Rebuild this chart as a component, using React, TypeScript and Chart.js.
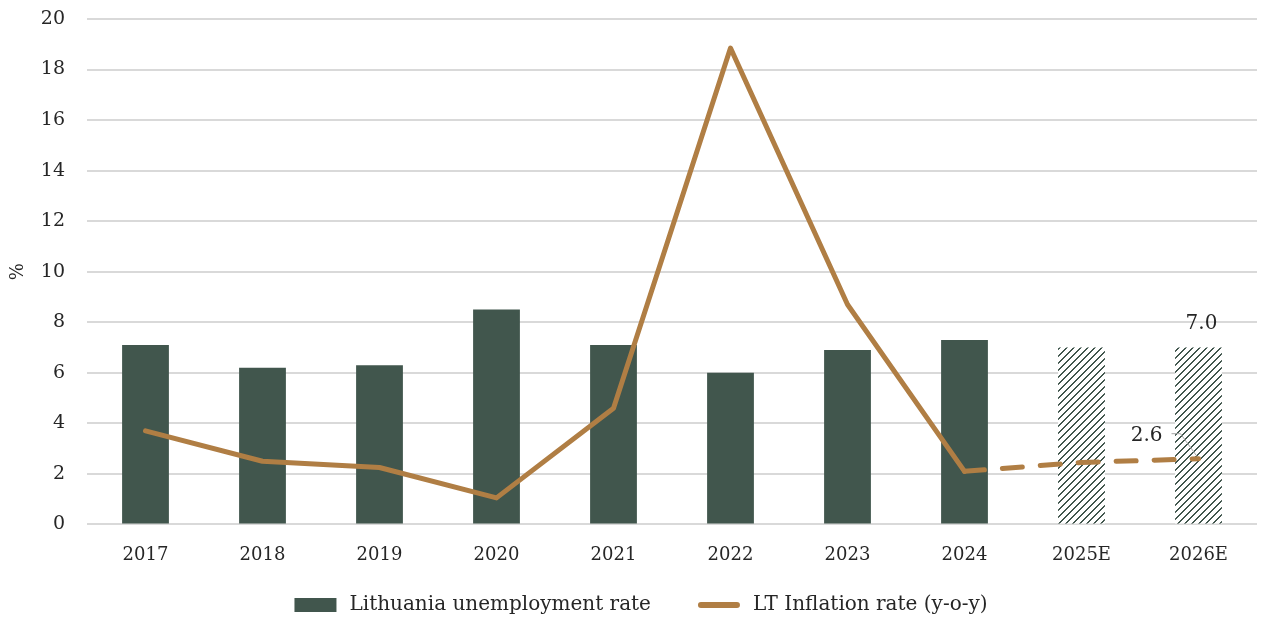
import React, { useEffect, useRef } from "react";
import { Chart, registerables } from "chart.js";

Chart.register(...registerables);

const categories = ["2017", "2018", "2019", "2020", "2021", "2022", "2023", "2024", "2025E", "2026E"];
const unemployment = [7.1, 6.2, 6.3, 8.5, 7.1, 6.0, 6.9, 7.3, 7.0, 7.0];
const inflation = [3.7, 2.5, 2.25, 1.05, 4.6, 18.85, 8.7, 2.1, 2.45, 2.6];
const forecastFrom = 7; // index of last actual point (2024)
const yTicks = [0, 2, 4, 6, 8, 10, 12, 14, 16, 18, 20];
const legendLabels = ["Lithuania unemployment rate", "LT Inflation rate (y-o-y)"];

const BAR = "#41564d";
const LINE = "#b07e44";
const TEXT = "#262626";
const FONT = "'DejaVu Serif', 'Liberation Serif', serif";

function makePattern(): CanvasPattern | string {
  const n = 7;
  const c = document.createElement("canvas");
  c.width = n;
  c.height = n;
  const g = c.getContext("2d");
  if (!g) return BAR;
  g.fillStyle = "#ffffff";
  g.fillRect(0, 0, n, n);
  g.fillStyle = BAR;
  for (let i = 0; i < n; i++) {
    g.fillRect((n - 1 - i + n) % n, i, 2, 1);
    if ((n - 1 - i) === n - 1) g.fillRect(0, i, 1, 1);
  }
  const p = g.createPattern(c, "repeat");
  return p || BAR;
}

const labelsPlugin = {
  id: "customLabels",
  afterDatasetsDraw(chart: any) {
    const { ctx } = chart;
    const x = chart.scales.x;
    const y = chart.scales.y;
    const last = categories.length - 1;
    ctx.save();
    ctx.font = `20px ${FONT}`;
    ctx.fillStyle = TEXT;
    ctx.textAlign = "center";
    ctx.textBaseline = "bottom";
    const bx = x.getPixelForValue(last);
    const by = y.getPixelForValue(unemployment[last]);
    ctx.fillText(unemployment[last].toFixed(1), bx + 3, by - 14);

    const px = x.getPixelForValue(last);
    const py = y.getPixelForValue(inflation[last]);
    ctx.textAlign = "right";
    ctx.textBaseline = "middle";
    ctx.fillText(inflation[last].toFixed(1), px - 36, py - 23);
    ctx.strokeStyle = "#a6a6a6";
    ctx.lineWidth = 1;
    ctx.beginPath();
    ctx.moveTo(px - 27, py - 25);
    ctx.lineTo(px - 18, py - 25);
    ctx.lineTo(px - 2, py - 3);
    ctx.stroke();
    ctx.restore();
  },
};

const legendPlugin = {
  id: "customLegend",
  afterDraw(chart: any) {
    const { ctx, width } = chart;
    ctx.save();
    ctx.font = `20px ${FONT}`;
    const box = 42;
    const gapText = 13;
    const gapItem = 47;
    const w0 = ctx.measureText(legendLabels[0]).width;
    const w1 = ctx.measureText(legendLabels[1]).width;
    const total = box + gapText + w0 + gapItem + box + gapText + w1;
    let x = (width - total) / 2 + 8;
    const yc = 605;
    ctx.fillStyle = BAR;
    ctx.fillRect(x, yc - 7, box, 14);
    x += box + gapText;
    ctx.fillStyle = TEXT;
    ctx.textAlign = "left";
    ctx.textBaseline = "middle";
    ctx.fillText(legendLabels[0], x, yc);
    x += w0 + gapItem;
    ctx.strokeStyle = LINE;
    ctx.lineWidth = 6;
    ctx.lineCap = "round";
    ctx.beginPath();
    ctx.moveTo(x + 3, yc);
    ctx.lineTo(x + box - 3, yc);
    ctx.stroke();
    x += box + gapText;
    ctx.fillText(legendLabels[1], x, yc);
    ctx.restore();
  },
};

export default function App() {
  const ref = useRef<HTMLCanvasElement>(null);
  useEffect(() => {
    document.body.style.margin = "0";
    if (!ref.current) return;
    const pattern = makePattern();
    const bg = categories.map((c, i) => (i > forecastFrom ? pattern : BAR));
    const chart = new Chart(ref.current, {
      type: "bar",
      data: {
        labels: categories,
        datasets: [
          {
            type: "line",
            label: legendLabels[1],
            data: inflation,
            borderColor: LINE,
            backgroundColor: LINE,
            borderWidth: 5,
            borderCapStyle: "round",
            borderJoinStyle: "round",
            pointRadius: 0,
            pointHoverRadius: 0,
            tension: 0,
            order: 0,
            segment: {
              borderDash: (ctx: any) => (ctx.p0DataIndex >= forecastFrom ? [20, 18] : undefined),
            },
          } as any,
          {
            type: "bar",
            label: legendLabels[0],
            data: unemployment,
            backgroundColor: bg as any,
            barPercentage: 0.4,
            categoryPercentage: 1,
            order: 1,
          },
        ],
      },
      options: {
        animation: false,
        responsive: false,
        maintainAspectRatio: false,
        layout: { padding: { left: 0, right: 9, top: 19, bottom: 35 } },
        plugins: {
          tooltip: { enabled: false },
          legend: { display: false },
        },
        scales: {
          x: {
            grid: { display: false, drawTicks: false },
            border: { display: false },
            ticks: { color: TEXT, font: { family: FONT, size: 18 }, padding: 20 },
          },
          y: {
            min: 0,
            max: 20,
            afterBuildTicks: (axis: any) => {
              axis.ticks = yTicks.map((v) => ({ value: v }));
            },
            afterFit: (axis: any) => {
              axis.width = 87;
              axis.paddingTop = 0;
              axis.paddingBottom = 0;
            },
            grid: { color: "#d9d9d9", lineWidth: 2, drawTicks: false },
            border: { display: false },
            ticks: { color: TEXT, font: { family: FONT, size: 19 }, padding: 22 },
            title: {
              display: true,
              text: "%",
              color: TEXT,
              font: { family: FONT, size: 18, lineHeight: 1 },
              padding: { top: 9, bottom: 0 },
            },
          },
        },
      },
      plugins: [labelsPlugin, legendPlugin],
    });
    return () => chart.destroy();
  }, []);
  return (
    <div style={{ width: 1266, height: 621 }}>
      <canvas ref={ref} width={1266} height={621} style={{ display: "block" }} />
    </div>
  );
}
